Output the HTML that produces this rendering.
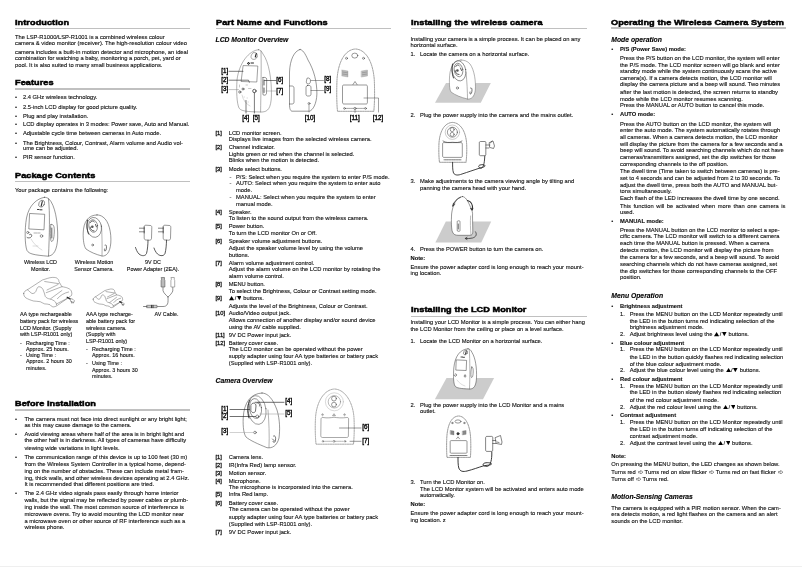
<!DOCTYPE html>
<html><head><meta charset="utf-8"><style>
*{margin:0;padding:0}
html,body{width:802px;height:567px;overflow:hidden;background:#fff}
body{position:relative;will-change:transform;font-family:"Liberation Sans",sans-serif;color:#111;-webkit-text-stroke:0.12px #111}
.l{position:absolute;white-space:pre;font-size:5.77px;line-height:5.77px}
.p{font-size:5.42px;line-height:5.42px}
.b{font-weight:bold}
.k{-webkit-text-stroke:0.3px #111}
.dl{font-size:6.3px;line-height:6.3px;-webkit-text-stroke:0.4px #111}
.h{position:absolute;white-space:pre;font-size:8.0px;line-height:8.0px;font-weight:bold;color:#000;transform-origin:0 0;transform:scaleX(1.145);-webkit-text-stroke:0.5px #000;letter-spacing:0.05px}
.s{position:absolute;white-space:pre;font-size:6.8px;line-height:6.8px;font-weight:bold;font-style:italic;color:#000}
.u{position:absolute;height:1.3px;background:#c0c0c0}
.c{text-align:center;width:100px}
.j{text-align:justify;text-align-last:justify}
svg.img{position:absolute;left:0;top:0}
.tri{display:inline-block;vertical-align:baseline}
</style></head><body>
<div class="h" style="left:15.00px;top:18.85px">Introduction</div>
<div class="u" style="left:15.00px;top:27.70px;width:175.00px"></div>
<div class="l" style="left:15.00px;top:34.82px">The LSP-R1000/LSP-R1001 is a combined wireless colour</div>
<div class="l" style="left:15.00px;top:41.42px">camera &amp; video monitor (receiver). The high-resolution colour video</div>
<div class="l" style="left:15.00px;top:49.62px">camera includes a built-in motion detector and microphone, an ideal</div>
<div class="l" style="left:15.00px;top:56.42px">combination for watching a baby, monitoring a porch, pet, yard or</div>
<div class="l" style="left:15.00px;top:62.82px">pool. It is also suited to many small business applications.</div>
<div class="h" style="left:15.00px;top:78.85px">Features</div>
<div class="u" style="left:15.00px;top:88.25px;width:175.00px"></div>
<div class="l" style="left:15.00px;top:95.32px">•</div>
<div class="l" style="left:23.00px;top:95.32px">2.4 GHz wireless technology.</div>
<div class="l" style="left:15.00px;top:104.52px">•</div>
<div class="l" style="left:23.00px;top:104.52px">2.5-inch LCD display for good picture quality.</div>
<div class="l" style="left:15.00px;top:113.52px">•</div>
<div class="l" style="left:23.00px;top:113.52px">Plug and play installation.</div>
<div class="l" style="left:15.00px;top:122.22px">•</div>
<div class="l" style="left:23.00px;top:122.22px">LCD display operates in 3 modes: Power save, Auto and Manual.</div>
<div class="l" style="left:15.00px;top:131.42px">•</div>
<div class="l" style="left:23.00px;top:131.42px">Adjustable cycle time between cameras in Auto mode.</div>
<div class="l" style="left:15.00px;top:140.52px">•</div>
<div class="l" style="left:23.00px;top:140.52px">The Brightness, Colour, Contrast, Alarm volume and Audio vol-</div>
<div class="l" style="left:23.00px;top:146.32px">ume can be adjusted.</div>
<div class="l" style="left:15.00px;top:155.02px">•</div>
<div class="l" style="left:23.00px;top:155.02px">PIR sensor function.</div>
<div class="h" style="left:15.00px;top:171.85px">Package Contents</div>
<div class="u" style="left:15.00px;top:181.20px;width:175.00px"></div>
<div class="l" style="left:15.00px;top:188.32px">Your package contains the following:</div>
<div class="l p c" style="left:-9.50px;top:259.81px">Wireless LCD</div>
<div class="l p c" style="left:-9.50px;top:266.61px">Monitor.</div>
<div class="l p c" style="left:44.00px;top:259.81px">Wireless Motion</div>
<div class="l p c" style="left:44.00px;top:266.61px">Sensor Camera.</div>
<div class="l p c" style="left:103.00px;top:259.81px">9V DC</div>
<div class="l p c" style="left:103.00px;top:266.61px">Power Adapter (2EA).</div>
<div class="l p" style="left:20.00px;top:312.11px">AA type rechargeable</div>
<div class="l p" style="left:20.00px;top:319.11px">battery pack for wireless</div>
<div class="l p" style="left:20.00px;top:326.11px">LCD Monitor. (Supply</div>
<div class="l p" style="left:20.00px;top:332.11px">with LSP-R1001 only)</div>
<div class="l p" style="left:20.00px;top:341.11px">-</div>
<div class="l p" style="left:26.00px;top:341.11px">Recharging Time :</div>
<div class="l p" style="left:26.00px;top:347.11px">Approx. 25 hours.</div>
<div class="l p" style="left:20.00px;top:353.31px">-</div>
<div class="l p" style="left:26.00px;top:353.31px">Using Time :</div>
<div class="l p" style="left:26.00px;top:358.61px">Approx. 2 hours 30</div>
<div class="l p" style="left:26.00px;top:365.61px">minutes.</div>
<div class="l p" style="left:86.00px;top:312.11px">AAA type recharge-</div>
<div class="l p" style="left:86.00px;top:319.11px">able battery pack for</div>
<div class="l p" style="left:86.00px;top:326.11px">wireless camera.</div>
<div class="l p" style="left:86.00px;top:332.11px">(Supply with</div>
<div class="l p" style="left:86.00px;top:338.61px">LSP-R1001 only)</div>
<div class="l p" style="left:86.00px;top:347.11px">-</div>
<div class="l p" style="left:92.00px;top:347.11px">Recharging Time :</div>
<div class="l p" style="left:92.00px;top:353.31px">Approx. 16 hours.</div>
<div class="l p" style="left:86.00px;top:361.11px">-</div>
<div class="l p" style="left:92.00px;top:361.11px">Using Time :</div>
<div class="l p" style="left:92.00px;top:367.61px">Approx. 3 hours 30</div>
<div class="l p" style="left:92.00px;top:374.11px">minutes.</div>
<div class="l p" style="left:154.50px;top:312.11px">AV Cable.</div>
<div class="h" style="left:15.00px;top:399.85px">Before Installation</div>
<div class="u" style="left:15.00px;top:409.25px;width:175.00px"></div>
<div class="l" style="left:15.00px;top:416.52px">•</div>
<div class="l" style="left:24.40px;top:416.52px">The camera must not face into direct sunlight or any bright light;</div>
<div class="l" style="left:24.40px;top:423.32px">as this may cause damage to the camera.</div>
<div class="l" style="left:15.00px;top:432.12px">•</div>
<div class="l" style="left:24.40px;top:432.12px">Avoid viewing areas where half of the area is in bright light and</div>
<div class="l" style="left:24.40px;top:438.32px">the other half is in darkness. All types of cameras have difficulty</div>
<div class="l" style="left:24.40px;top:446.22px">viewing wide variations in light levels.</div>
<div class="l" style="left:15.00px;top:454.62px">•</div>
<div class="l" style="left:24.40px;top:454.62px">The communication range of this device is up to 100 feet (30 m)</div>
<div class="l" style="left:24.40px;top:461.82px">from the Wireless System Controller in a typical home, depend-</div>
<div class="l" style="left:24.40px;top:468.72px">ing on the number of obstacles. These can include metal fram-</div>
<div class="l" style="left:24.40px;top:475.82px">ing, thick walls, and other wireless devices operating at 2.4 GHz.</div>
<div class="l" style="left:24.40px;top:481.52px">It is recommended that different positions are tried.</div>
<div class="l" style="left:15.00px;top:490.57px">•</div>
<div class="l" style="left:24.40px;top:490.57px">The 2.4 GHz video signals pass easily through home interior</div>
<div class="l" style="left:24.40px;top:497.82px">walls, but the signal may be reflected by power cables or plumb-</div>
<div class="l" style="left:24.40px;top:504.62px">ing inside the wall. The most common source of interference is</div>
<div class="l" style="left:24.40px;top:511.82px">microwave ovens. Try to avoid mounting the LCD monitor near</div>
<div class="l" style="left:24.40px;top:518.72px">a microwave oven or other source of RF interference such as a</div>
<div class="l" style="left:24.40px;top:524.82px">wireless phone.</div>
<div class="h" style="left:215.50px;top:18.85px">Part Name and Functions</div>
<div class="u" style="left:215.50px;top:27.70px;width:175.50px"></div>
<div class="s" style="left:215.50px;top:36.94px">LCD Monitor Overview</div>
<div class="l dl" style="left:221.30px;top:68.47px">[1]</div>
<div class="l dl" style="left:221.30px;top:77.47px">[2]</div>
<div class="l dl" style="left:221.30px;top:85.97px">[3]</div>
<div class="l dl" style="left:276.30px;top:77.47px">[6]</div>
<div class="l dl" style="left:276.30px;top:88.47px">[7]</div>
<div class="l dl" style="left:324.30px;top:75.97px">[8]</div>
<div class="l dl" style="left:324.30px;top:85.97px">[9]</div>
<div class="l dl" style="left:242.30px;top:115.37px">[4]</div>
<div class="l dl" style="left:252.80px;top:115.37px">[5]</div>
<div class="l dl" style="left:304.80px;top:115.37px">[10]</div>
<div class="l dl" style="left:349.80px;top:115.37px">[11]</div>
<div class="l dl" style="left:372.80px;top:115.37px">[12]</div>
<div class="l k" style="left:215.50px;top:130.52px">[1]</div>
<div class="l" style="left:228.75px;top:130.52px">LCD monitor screen.</div>
<div class="l" style="left:228.75px;top:137.32px">Displays live images from the selected wireless camera.</div>
<div class="l k" style="left:215.50px;top:145.02px">[2]</div>
<div class="l" style="left:228.75px;top:145.02px">Channel indicator.</div>
<div class="l" style="left:228.75px;top:152.22px">Lights green or red when the channel is selected.</div>
<div class="l" style="left:228.75px;top:158.02px">Blinks when the motion is detected.</div>
<div class="l k" style="left:215.50px;top:166.82px">[3]</div>
<div class="l" style="left:228.75px;top:166.82px">Mode select buttons.</div>
<div class="l" style="left:229.50px;top:174.82px">-</div>
<div class="l" style="left:236.00px;top:174.82px">P/S: Select when you require the system to enter P/S mode.</div>
<div class="l" style="left:229.50px;top:181.32px">-</div>
<div class="l" style="left:236.00px;top:181.32px">AUTO: Select when you require the system to enter auto</div>
<div class="l" style="left:236.00px;top:188.02px">mode.</div>
<div class="l" style="left:229.50px;top:194.82px">-</div>
<div class="l" style="left:236.00px;top:194.82px">MANUAL: Select when you require the system to enter</div>
<div class="l" style="left:236.00px;top:201.82px">manual mode.</div>
<div class="l k" style="left:215.50px;top:210.02px">[4]</div>
<div class="l" style="left:228.75px;top:210.02px">Speaker.</div>
<div class="l" style="left:228.75px;top:216.32px">To listen to the sound output from the wireless camera.</div>
<div class="l k" style="left:215.50px;top:224.32px">[5]</div>
<div class="l" style="left:228.75px;top:224.32px">Power button.</div>
<div class="l" style="left:228.75px;top:231.32px">To turn the LCD monitor On or Off.</div>
<div class="l k" style="left:215.50px;top:239.32px">[6]</div>
<div class="l" style="left:228.75px;top:239.32px">Speaker volume adjustment buttons.</div>
<div class="l" style="left:228.75px;top:246.32px">Adjust the speaker volume level by using the volume</div>
<div class="l" style="left:228.75px;top:252.82px">buttons.</div>
<div class="l k" style="left:215.50px;top:261.32px">[7]</div>
<div class="l" style="left:228.75px;top:261.32px">Alarm volume adjustment control.</div>
<div class="l" style="left:228.75px;top:267.32px">Adjust the alarm volume on the LCD monitor by rotating the</div>
<div class="l" style="left:228.75px;top:274.32px">alarm volume control.</div>
<div class="l k" style="left:215.50px;top:282.32px">[8]</div>
<div class="l" style="left:228.75px;top:282.32px">MENU button.</div>
<div class="l" style="left:228.75px;top:289.22px">To select the Brightness, Colour or Contrast setting mode.</div>
<div class="l k" style="left:215.50px;top:296.32px">[9]</div>
<div class="l" style="left:228.75px;top:296.32px"><svg class="tri" width="5.2" height="4.2" viewBox="0 0 5.2 4.2" style="margin:0 0.4px 0 0.3px"><path d="M2.6,0 L5.2,4.2 L0,4.2 Z" fill="#000"/></svg>/<svg class="tri" width="4.6" height="4.2" viewBox="0 0 4.6 4.2" style="margin:0 0.3px 0 0.5px"><path d="M0,0 L4.6,0 L2.3,4.2 Z" fill="#000"/></svg> buttons.</div>
<div class="l" style="left:228.75px;top:304.22px">Adjusts the level of the Brightness, Colour or Contrast.</div>
<div class="l k" style="left:215.50px;top:311.22px">[10]</div>
<div class="l" style="left:228.75px;top:311.22px">Audio/Video output jack.</div>
<div class="l" style="left:228.75px;top:318.12px">Allows connection of another display and/or sound device</div>
<div class="l" style="left:228.75px;top:324.62px">using the AV cable supplied.</div>
<div class="l k" style="left:215.50px;top:332.82px">[11]</div>
<div class="l" style="left:228.75px;top:332.82px">9V DC Power input jack.</div>
<div class="l k" style="left:215.50px;top:340.82px">[12]</div>
<div class="l" style="left:228.75px;top:340.82px">Battery cover case.</div>
<div class="l" style="left:228.75px;top:347.12px">The LCD monitor can be operated without the power</div>
<div class="l" style="left:228.75px;top:354.12px">supply adapter using four AA type batteries or battery pack</div>
<div class="l" style="left:228.75px;top:361.12px">(Supplied with LSP-R1001 only).</div>
<div class="s" style="left:215.50px;top:378.44px">Camera Overview</div>
<div class="l dl" style="left:221.30px;top:406.07px">[1]</div>
<div class="l dl" style="left:221.30px;top:413.47px">[2]</div>
<div class="l dl" style="left:221.30px;top:428.27px">[3]</div>
<div class="l dl" style="left:285.30px;top:398.47px">[4]</div>
<div class="l dl" style="left:285.30px;top:410.47px">[5]</div>
<div class="l dl" style="left:362.30px;top:424.47px">[6]</div>
<div class="l dl" style="left:362.30px;top:437.97px">[7]</div>
<div class="l k" style="left:215.50px;top:454.87px">[1]</div>
<div class="l" style="left:228.75px;top:454.87px">Camera lens.</div>
<div class="l k" style="left:215.50px;top:462.72px">[2]</div>
<div class="l" style="left:228.75px;top:462.72px">IR(Infra Red) lamp sensor.</div>
<div class="l k" style="left:215.50px;top:470.52px">[3]</div>
<div class="l" style="left:228.75px;top:470.52px">Motion sensor.</div>
<div class="l k" style="left:215.50px;top:478.62px">[4]</div>
<div class="l" style="left:228.75px;top:478.62px">Microphone.</div>
<div class="l" style="left:228.75px;top:484.87px">The microphone is incorporated into the camera.</div>
<div class="l k" style="left:215.50px;top:492.37px">[5]</div>
<div class="l" style="left:228.75px;top:492.37px">Infra Red lamp.</div>
<div class="l k" style="left:215.50px;top:500.52px">[6]</div>
<div class="l" style="left:228.75px;top:500.52px">Battery cover case.</div>
<div class="l" style="left:228.75px;top:507.37px">The camera can be operated without the power</div>
<div class="l" style="left:228.75px;top:514.87px">supply adapter using four AA type batteries or battery pack</div>
<div class="l" style="left:228.75px;top:522.12px">(Supplied with LSP-R1001 only).</div>
<div class="l k" style="left:215.50px;top:529.87px">[7]</div>
<div class="l" style="left:228.75px;top:529.87px">9V DC Power input jack.</div>
<div class="h" style="left:410.50px;top:18.85px">Installing the wireless camera</div>
<div class="u" style="left:410.50px;top:27.70px;width:176.50px"></div>
<div class="l" style="left:410.50px;top:37.42px">Installing your camera is a simple process. It can be placed on any</div>
<div class="l" style="left:410.50px;top:43.42px">horizontal surface.</div>
<div class="l" style="left:410.50px;top:52.22px">1.</div>
<div class="l" style="left:420.00px;top:52.22px">Locate the camera on a horizontal surface.</div>
<div class="l" style="left:410.50px;top:113.02px">2.</div>
<div class="l" style="left:420.00px;top:113.02px">Plug the power supply into the camera and the mains outlet.</div>
<div class="l" style="left:410.50px;top:179.32px">3.</div>
<div class="l" style="left:420.00px;top:179.32px">Make adjustments to the camera viewing angle by tilting and</div>
<div class="l" style="left:420.00px;top:185.57px">panning the camera head with your hand.</div>
<div class="l" style="left:410.50px;top:247.32px">4.</div>
<div class="l" style="left:420.00px;top:247.32px">Press the POWER button to turn the camera on.</div>
<div class="l b" style="left:410.50px;top:256.32px">Note:</div>
<div class="l" style="left:410.50px;top:265.07px">Ensure the power adapter cord is long enough to reach your mount-</div>
<div class="l" style="left:410.50px;top:271.07px">ing location.</div>
<div class="h" style="left:410.50px;top:305.85px">Installing the LCD Monitor</div>
<div class="u" style="left:410.50px;top:315.80px;width:176.50px"></div>
<div class="l" style="left:410.50px;top:320.07px">Installing your LCD Monitor is a simple process. You can either hang</div>
<div class="l" style="left:410.50px;top:327.32px">the LCD Monitor from the ceiling or place on a level surface.</div>
<div class="l" style="left:410.50px;top:339.32px">1.</div>
<div class="l" style="left:420.00px;top:339.32px">Locate the LCD Monitor on a horizontal surface.</div>
<div class="l" style="left:410.50px;top:403.07px">2.</div>
<div class="l" style="left:420.00px;top:403.07px">Plug the power supply into the LCD Monitor and a mains</div>
<div class="l" style="left:420.00px;top:409.32px">outlet.</div>
<div class="l" style="left:410.50px;top:479.82px">3.</div>
<div class="l" style="left:420.00px;top:479.82px">Turn the LCD Monitor on.</div>
<div class="l" style="left:420.00px;top:486.82px">The LCD Monitor system will be activated and enters auto mode</div>
<div class="l" style="left:420.00px;top:493.07px">automatically.</div>
<div class="l b" style="left:410.50px;top:502.42px">Note:</div>
<div class="l" style="left:410.50px;top:511.22px">Ensure the power adapter cord is long enough to reach your mount-</div>
<div class="l" style="left:410.50px;top:518.07px">ing location. z</div>
<div class="h" style="left:611.30px;top:18.85px">Operating the Wireless Camera System</div>
<div class="u" style="left:611.30px;top:27.25px;width:174.70px"></div>
<div class="s" style="left:611.30px;top:37.24px">Mode operation</div>
<div class="l" style="left:611.30px;top:47.22px">•</div>
<div class="l b" style="left:620.00px;top:47.22px">P/S (Power Save) mode:</div>
<div class="l" style="left:620.00px;top:56.02px">Press the P/S button on the LCD monitor, the system will enter</div>
<div class="l" style="left:620.00px;top:62.82px">the P/S mode. The LCD monitor screen will go blank and enter</div>
<div class="l" style="left:620.00px;top:69.32px">standby mode while the system continuously scans the active</div>
<div class="l" style="left:620.00px;top:75.62px">camera(s). If a camera detects motion, the LCD monitor will</div>
<div class="l" style="left:620.00px;top:81.92px">display the camera picture and a beep will sound. Two minutes</div>
<div class="l" style="left:620.00px;top:90.02px">after the last motion is detected, the screen returns to standby</div>
<div class="l" style="left:620.00px;top:96.82px">mode while the LCD monitor resumes scanning.</div>
<div class="l" style="left:620.00px;top:102.62px">Press the MANUAL or AUTO button to cancel this mode.</div>
<div class="l" style="left:611.30px;top:112.22px">•</div>
<div class="l b" style="left:620.00px;top:112.22px">AUTO mode:</div>
<div class="l" style="left:620.00px;top:121.52px">Press the AUTO button on the LCD monitor, the system will</div>
<div class="l" style="left:620.00px;top:128.32px">enter the auto mode. The system automatically rotates through</div>
<div class="l" style="left:620.00px;top:134.82px">all cameras. When a camera detects motion, the LCD monitor</div>
<div class="l" style="left:620.00px;top:141.92px">will display the picture from the camera for a few seconds and a</div>
<div class="l" style="left:620.00px;top:148.22px">beep will sound. To avoid searching channels which do not have</div>
<div class="l" style="left:620.00px;top:155.02px">cameras/transmitters assigned, set the dip switches for those</div>
<div class="l" style="left:620.00px;top:162.12px">corresponding channels to the off position.</div>
<div class="l" style="left:620.00px;top:168.82px">The dwell time (Time taken to switch between cameras) is pre-</div>
<div class="l" style="left:620.00px;top:175.92px">set to 4 seconds and can be adjusted from 2 to 30 seconds. To</div>
<div class="l" style="left:620.00px;top:182.72px">adjust the dwell time, press both the AUTO and MANUAL but-</div>
<div class="l" style="left:620.00px;top:188.82px">tons simultaneously.</div>
<div class="l" style="left:620.00px;top:196.12px">Each flash of the LED increases the dwell time by one second.</div>
<div class="l j" style="left:620.00px;top:203.62px;width:165.50px">This function will be activated when more than one camera is</div>
<div class="l" style="left:620.00px;top:209.92px">used.</div>
<div class="l" style="left:611.30px;top:218.82px">•</div>
<div class="l b" style="left:620.00px;top:218.82px">MANUAL mode:</div>
<div class="l" style="left:620.00px;top:228.32px">Press the MANUAL button on the LCD monitor to select a spe-</div>
<div class="l" style="left:620.00px;top:233.82px">cific camera. The LCD monitor will switch to a different camera</div>
<div class="l" style="left:620.00px;top:240.92px">each time the MANUAL button is pressed. When a camera</div>
<div class="l" style="left:620.00px;top:247.72px">detects motion, the LCD monitor will display the picture from</div>
<div class="l" style="left:620.00px;top:254.82px">the camera for a few seconds, and a beep will sound. To avoid</div>
<div class="l" style="left:620.00px;top:261.82px">searching channels which do not have cameras assigned, set</div>
<div class="l" style="left:620.00px;top:268.92px">the dip switches for those corresponding channels to the OFF</div>
<div class="l" style="left:620.00px;top:274.92px">position.</div>
<div class="s" style="left:611.30px;top:293.04px">Menu Operation</div>
<div class="l" style="left:611.30px;top:304.22px">•</div>
<div class="l b" style="left:620.00px;top:304.22px">Brightness adjustment</div>
<div class="l" style="left:620.00px;top:312.22px">1.</div>
<div class="l" style="left:629.70px;top:312.22px">Press the MENU button on the LCD Monitor repeatedly until</div>
<div class="l" style="left:629.70px;top:319.02px">the LED in the button turns red indicating selection of the</div>
<div class="l" style="left:629.70px;top:325.32px">brightness adjustment mode.</div>
<div class="l" style="left:620.00px;top:332.42px">2.</div>
<div class="l" style="left:629.70px;top:332.42px">Adjust brightness level using the <svg class="tri" width="5.2" height="4.2" viewBox="0 0 5.2 4.2" style="margin:0 0.4px 0 0.3px"><path d="M2.6,0 L5.2,4.2 L0,4.2 Z" fill="#000"/></svg>/<svg class="tri" width="4.6" height="4.2" viewBox="0 0 4.6 4.2" style="margin:0 0.3px 0 0.5px"><path d="M0,0 L4.6,0 L2.3,4.2 Z" fill="#000"/></svg> buttons.</div>
<div class="l" style="left:611.30px;top:341.22px">•</div>
<div class="l b" style="left:620.00px;top:341.22px">Blue colour adjustment</div>
<div class="l" style="left:620.00px;top:347.02px">1.</div>
<div class="l" style="left:629.70px;top:347.02px">Press the MENU button on the LCD Monitor repeatedly until</div>
<div class="l" style="left:629.70px;top:355.02px">the LED in the button quickly flashes red indicating selection</div>
<div class="l" style="left:629.70px;top:362.12px">of the blue colour adjustment mode.</div>
<div class="l" style="left:620.00px;top:368.12px">2.</div>
<div class="l" style="left:629.70px;top:368.12px">Adjust the blue colour level using the <svg class="tri" width="5.2" height="4.2" viewBox="0 0 5.2 4.2" style="margin:0 0.4px 0 0.3px"><path d="M2.6,0 L5.2,4.2 L0,4.2 Z" fill="#000"/></svg>/<svg class="tri" width="4.6" height="4.2" viewBox="0 0 4.6 4.2" style="margin:0 0.3px 0 0.5px"><path d="M0,0 L4.6,0 L2.3,4.2 Z" fill="#000"/></svg> buttons.</div>
<div class="l" style="left:611.30px;top:376.92px">•</div>
<div class="l b" style="left:620.00px;top:376.92px">Red colour adjustment</div>
<div class="l" style="left:620.00px;top:384.02px">1.</div>
<div class="l" style="left:629.70px;top:384.02px">Press the MENU button on the LCD Monitor repeatedly until</div>
<div class="l" style="left:629.70px;top:390.42px">the LED in the button slowly flashes red indicating selection</div>
<div class="l" style="left:629.70px;top:397.82px">of the red colour adjustment mode.</div>
<div class="l" style="left:620.00px;top:404.82px">2.</div>
<div class="l" style="left:629.70px;top:404.82px">Adjust the red colour level using the <svg class="tri" width="5.2" height="4.2" viewBox="0 0 5.2 4.2" style="margin:0 0.4px 0 0.3px"><path d="M2.6,0 L5.2,4.2 L0,4.2 Z" fill="#000"/></svg>/<svg class="tri" width="4.6" height="4.2" viewBox="0 0 4.6 4.2" style="margin:0 0.3px 0 0.5px"><path d="M0,0 L4.6,0 L2.3,4.2 Z" fill="#000"/></svg> buttons.</div>
<div class="l" style="left:611.30px;top:412.82px">•</div>
<div class="l b" style="left:620.00px;top:412.82px">Contrast adjustment</div>
<div class="l" style="left:620.00px;top:420.22px">1.</div>
<div class="l" style="left:629.70px;top:420.22px">Press the MENU button on the LCD Monitor repeatedly until</div>
<div class="l" style="left:629.70px;top:427.42px">the LED in the button turns off indicating selection of the</div>
<div class="l" style="left:629.70px;top:433.72px">contrast adjustment mode.</div>
<div class="l" style="left:620.00px;top:440.82px">2.</div>
<div class="l" style="left:629.70px;top:440.82px">Adjust the contrast level using the <svg class="tri" width="5.2" height="4.2" viewBox="0 0 5.2 4.2" style="margin:0 0.4px 0 0.3px"><path d="M2.6,0 L5.2,4.2 L0,4.2 Z" fill="#000"/></svg>/<svg class="tri" width="4.6" height="4.2" viewBox="0 0 4.6 4.2" style="margin:0 0.3px 0 0.5px"><path d="M0,0 L4.6,0 L2.3,4.2 Z" fill="#000"/></svg> buttons.</div>
<div class="l b" style="left:611.30px;top:454.02px">Note:</div>
<div class="l" style="left:611.30px;top:462.12px">On pressing the MENU button, the LED changes as shown below.</div>
<div class="l" style="left:611.30px;top:469.92px">Turns red <svg class="tri" width="5.4" height="4.4" viewBox="0 0 5.4 4.4" style="margin:0 0.2px"><path d="M0.4,1.5 H2.6 V0.4 L5,2.2 L2.6,4 V2.9 H0.4 Z" fill="#fff" stroke="#555" stroke-width="0.6"/></svg> Turns red on slow flicker <svg class="tri" width="5.4" height="4.4" viewBox="0 0 5.4 4.4" style="margin:0 0.2px"><path d="M0.4,1.5 H2.6 V0.4 L5,2.2 L2.6,4 V2.9 H0.4 Z" fill="#fff" stroke="#555" stroke-width="0.6"/></svg> Turns red on fast flicker <svg class="tri" width="5.4" height="4.4" viewBox="0 0 5.4 4.4" style="margin:0 0.2px"><path d="M0.4,1.5 H2.6 V0.4 L5,2.2 L2.6,4 V2.9 H0.4 Z" fill="#fff" stroke="#555" stroke-width="0.6"/></svg></div>
<div class="l" style="left:611.30px;top:476.82px">Turns off <svg class="tri" width="5.4" height="4.4" viewBox="0 0 5.4 4.4" style="margin:0 0.2px"><path d="M0.4,1.5 H2.6 V0.4 L5,2.2 L2.6,4 V2.9 H0.4 Z" fill="#fff" stroke="#555" stroke-width="0.6"/></svg> Turns red.</div>
<div class="s" style="left:611.30px;top:494.14px">Motion-Sensing Cameras</div>
<div class="l" style="left:611.30px;top:506.22px">The camera is equipped with a PIR motion sensor. When the cam-</div>
<div class="l" style="left:611.30px;top:511.82px">era detects motion, a red light flashes on the camera and an alert</div>
<div class="l" style="left:611.30px;top:518.72px">sounds on the LCD monitor.</div>
<svg class="img" width="802" height="567" viewBox="0 0 802 567" fill="none" stroke="#333" stroke-width="0.5" stroke-linejoin="round" stroke-linecap="round">
<!-- ===== COL1 package ===== -->
<!-- LCD monitor 3/4 -->
<g>
<path d="M44.5,197.3 C37,198.5 29,205 26.5,218 C24.5,230 24.8,245 27,250.5 C29,254 34,255 48,256.2 C54,255.5 57,250 57.7,238 C58,222 55,205 49,199 C47.5,197.8 46,197.3 44.5,197.3 Z"/>
<path d="M48.5,199 C50,212 49.5,235 48.5,256"/>
<ellipse cx="41.6" cy="203.7" rx="2.7" ry="3.6" transform="rotate(25 41.6 203.7)"/>
<path d="M42.3,201.5 L41.2,206" stroke-width="1.1"/>
<path d="M37.5,209.5 h1.5 M40,209.8 h2" stroke-width="1"/>
<path d="M30,213.5 L44.7,214.3 L44,229.8 L29.2,229 Z"/>
<path d="M51,224.5 C53.5,224 54.5,226 54.3,232 C54,239 53,241.5 51.5,241.5 C50,241 50,227 51,224.5 Z"/>
<path d="M51.8,228 v10" stroke-width="0.8"/>
<circle cx="27.8" cy="232.5" r="1.1"/>
<path d="M29.5,234.5 C30.5,233.5 32.5,234.5 31.5,236.5 C30.5,238 28,238.5 27,237.5" stroke-width="0.7"/>
<circle cx="41.5" cy="236" r="1.3"/>
<path d="M34,233 h3 M38,233 h2" stroke-width="0.4"/>
<path d="M31,239 C33,243 38,248 42,250 M33,246 h5" stroke="#aaa" stroke-width="0.4"/>
</g>
<!-- camera -->
<g>
<path d="M97,214.9 C88,215 83.5,222 83.2,233 C83,240 84,246.5 86,249 C90,252 96,254.5 102,256 C106,256.5 110,253 110.8,243 C111.5,233 109,221 103,217 C101,215.5 99,214.9 97,214.9 Z"/>
<ellipse cx="94.2" cy="227.4" rx="7.3" ry="10" transform="rotate(-8 94.2 227.4)"/>
<ellipse cx="93.2" cy="226" rx="4.4" ry="6.3" transform="rotate(-8 93.2 226)"/>
<path d="M90.5,222.5 C91.5,220.5 93.5,220.5 94.5,222 M90,227 C90.5,229.5 92,231 94,231 M95.5,224.5 l1,2.5" stroke="#444" stroke-width="0.9"/>
<circle cx="92.3" cy="226.8" r="1.3" fill="#555" stroke="none"/>
<path d="M87.5,220 C86.5,224 86.8,230 88.5,234" stroke="#333" stroke-width="0.9"/>
<path d="M101.5,225 C102,235 102.3,245 102,256" stroke="#666"/>
<circle cx="92.6" cy="245" r="0.9"/>
<path d="M105,245 C106.5,244 107,247 106,250 C105,252 104,251 104.5,249" stroke-width="0.7"/>
</g>
<!-- adapters -->
<g>
<path d="M144.2,226.5 C144.2,225.5 145,225.2 146,225.2 L150.5,225.5 C151.5,225.6 151.8,226.5 151.8,227.5 L151.5,238.5 C151.5,239.6 150.5,240.2 149.5,240.2 L146,240 C145,240 144.2,239.3 144.2,238.3 Z"/>
<path d="M144.2,228.2 h-4.8 M144.2,231.8 h-4.8 M144.2,227 v6" stroke-width="0.6"/>
<path d="M148,240.2 C148,244 147.5,250 146.5,253.5 C145.5,256 142,256.5 139,254 C137,252 136,249 135.5,247.5" stroke="#222" stroke-width="0.75"/>
<path d="M163.2,226.5 C163.2,225.5 164,225.2 165,225.2 L169.5,225.5 C170.5,225.6 170.8,226.5 170.8,227.5 L170.5,238.5 C170.5,239.6 169.5,240.2 168.5,240.2 L165,240 C164,240 163.2,239.3 163.2,238.3 Z"/>
<path d="M163.2,228.2 h-4.8 M163.2,231.8 h-4.8 M163.2,227 v6" stroke-width="0.6"/>
<path d="M166.5,240.2 C166.5,244 166,250 165,253.5 C164,256 160.5,256.5 157.5,254 C155.5,252 154.5,249.5 154,248" stroke="#222" stroke-width="0.75"/>
</g>
<!-- AA battery pack -->
<g stroke="#555" stroke-width="0.45">
<path d="M23.7,293.4 C24,291.5 25.5,290.5 27.5,289.7 L42.4,280 C46,279 49,277.6 52.2,277.4 C55,277.3 57,277.8 57.4,278.5 C58.5,279.5 59,280.5 58.9,281.5 L61.9,286.7 C64,287 66.5,287.5 67.9,288.2 C70,289 71.5,290.5 71.6,292 C72,293 72,294.5 71.5,295.5 L57.4,305.4 C56,306.5 54,307 52.9,306.9 C51.5,306.5 50.5,305.5 50,304.7 C48,304 46,304 44.7,303.9 C43,303.3 41.5,302.3 40.2,301.7 C38,301.3 35.5,301.3 33.5,301 C30,300 28,299 26,298 C24.5,297 23.5,295 23.7,293.4 Z"/>
<path d="M27.5,289.7 C29,291 31,293 32,293.5 C33.5,293.7 35,293 35.8,291.5 C36.8,289 37.5,287 38.5,286.8 C40.5,286.5 42,287.5 43,289.5 C44,291.5 44.5,294 45.3,296.5 C46.5,298 48,298.7 50,299 C52,299.5 54,300.5 55.5,302 C56.2,303 56.5,304 56.6,305"/>
<path d="M44.7,281.5 L58.9,283.7 M46.2,292.7 L61.9,286.7 M47,290 C50,288.5 55,286 58,284.5 M50.7,298.7 L61.9,290.5 M57.4,298.7 C60,295.5 64,293 68.6,292 M56.6,303.9 L69.4,297.2"/>
<path d="M67.1,297.2 L70,299" stroke="#222" stroke-width="1.1"/>
<path d="M70.5,298.5 l2.5,0.8 l1.5,1.5 l-0.8,1.8 l-2.5,-0.8 Z M71.5,301.5 v1.5 M73,302 v1.2" stroke-width="0.5"/>
</g>
<!-- AAA battery pack -->
<g stroke="#555" stroke-width="0.45" transform="translate(93.2,289) scale(0.611,0.634) translate(-23.7,-277.4)">
<path d="M23.7,293.4 C24,291.5 25.5,290.5 27.5,289.7 L42.4,280 C46,279 49,277.6 52.2,277.4 C55,277.3 57,277.8 57.4,278.5 C58.5,279.5 59,280.5 58.9,281.5 L61.9,286.7 C64,287 66.5,287.5 67.9,288.2 C70,289 71.5,290.5 71.6,292 C72,293 72,294.5 71.5,295.5 L57.4,305.4 C56,306.5 54,307 52.9,306.9 C51.5,306.5 50.5,305.5 50,304.7 C48,304 46,304 44.7,303.9 C43,303.3 41.5,302.3 40.2,301.7 C38,301.3 35.5,301.3 33.5,301 C30,300 28,299 26,298 C24.5,297 23.5,295 23.7,293.4 Z" vector-effect="non-scaling-stroke"/>
<path d="M27.5,289.7 C29,291 31,293 32,293.5 C33.5,293.7 35,293 35.8,291.5 C36.8,289 37.5,287 38.5,286.8 C40.5,286.5 42,287.5 43,289.5 C44,291.5 44.5,294 45.3,296.5 C46.5,298 48,298.7 50,299 C52,299.5 54,300.5 55.5,302 C56.2,303 56.5,304 56.6,305" vector-effect="non-scaling-stroke"/>
<path d="M44.7,281.5 L58.9,283.7 M46.2,292.7 L61.9,286.7 M47,290 C50,288.5 55,286 58,284.5 M50.7,298.7 L61.9,290.5 M57.4,298.7 C60,295.5 64,293 68.6,292 M56.6,303.9 L69.4,297.2" vector-effect="non-scaling-stroke"/>
<path d="M67.1,297.2 L70,299" stroke="#222" stroke-width="1.1" vector-effect="non-scaling-stroke"/>
<path d="M70.5,298.5 l2.5,0.8 l1.5,1.5 l-0.8,1.8 l-2.5,-0.8 Z M71.5,301.5 v1.5 M73,302 v1.2" stroke-width="0.5" vector-effect="non-scaling-stroke"/>
</g>
<!-- AV cable -->
<g stroke-width="0.6">
<path d="M161.5,277.5 h3 v2 l0.4,1 v6.5 h-3.8 v-6.5 l0.4,-1 Z" fill="#bbb" stroke="#555"/>
<path d="M171.3,277.5 h3 v2 l0.4,1 v6.5 h-3.8 v-6.5 l0.4,-1 Z" fill="#fff" stroke="#777"/>
<path d="M163,287.5 v3 C163.5,293 166,295 168,297 M172.8,287.5 v3.5 C172,293 170,295.5 168,297 M168,297 C168,300 168.3,302 167.5,304 C166.5,306 165,306.5 163,306.5 L157,306.5" stroke="#444"/>
<path d="M147,305.3 h10 v2.4 h-10 Z" fill="#ccc" stroke="#555"/>
<path d="M151.5,305.3 v2.4 M153,305.3 v2.4" stroke="#333" stroke-width="0.9"/>
<path d="M147,306.5 h-3.5" stroke="#333"/>
</g>

<!-- ===== COL2 LCD monitor overview ===== -->
<g>
<!-- front -->
<path d="M258.5,49.7 C249,50.5 239,63 237,80 C236.3,92 236.8,103 239,108 C241,111 246,111.8 262,112 C268,111.8 271,108 271.4,96 C271.8,80 269,62 263,54 C261.5,51 260,49.7 258.5,49.7 Z" stroke="#555" stroke-width="0.45"/>
<path d="M261,51 C261.5,70 260.8,95 260.6,112" stroke="#555" stroke-width="0.45"/>
<ellipse cx="254.2" cy="56" rx="3" ry="3.6" transform="rotate(20 254.2 56)" stroke="#555" stroke-width="0.45"/>
<path d="M256.3,53.5 L255.3,57" stroke="#222" stroke-width="1.1"/>
<path d="M248.5,62.6 a0.9,0.9 0 1,0 0.1,0 M251,63 h2.5" stroke="#222" stroke-width="1"/>
<path d="M243.5,65.6 L257.8,66 L256.8,82 L241.5,81.5 Z" stroke="#444" stroke-width="0.5"/>
<path d="M263,77.5 C264.5,77 266.5,77.5 266.7,79 L266.5,93.5 C266.3,95 264.5,95.5 263.2,95 C262.5,94 262.5,80 263,77.5 Z" stroke="#444" stroke-width="0.55"/>
<path d="M264,80 v5 M264,88 v4.5" stroke="#333" stroke-width="0.8"/>
<circle cx="239.8" cy="92" r="1.1" stroke="#333" stroke-width="0.6"/>
<circle cx="243" cy="89" r="1" stroke="#333" stroke-width="0.6"/>
<path d="M239.5,85 v2 M246,85 h1.5 M248.5,88.5 h2.5" stroke="#777" stroke-width="0.4"/>
<circle cx="254.4" cy="91" r="1.7" stroke="#222" stroke-width="0.7"/>
<path d="M242,95 C243,100 246,104 250,106 M244,97 l0.5,0 M247,98 l0.5,0 M245,101 l0.5,0 M248,102 l0.5,0" stroke="#aaa" stroke-width="0.45"/>
<!-- leaders -->
<path d="M229,71.3 h14 M229,80.2 h19.5 l0.8,2 M246,100.5 v12.5 M254.4,92.7 v20.3 M264.5,80.5 h11.5" stroke="#222" stroke-width="0.6"/>
<path d="M229,89.6 h9.5 M266,91 h10" stroke="#888" stroke-width="0.5"/>
<!-- side -->
<path d="M300,49.5 C294,51 290,60 289.5,72 L289.5,104 C289.5,109 290.5,111 292,111.2 L309.5,111.2 C313,110 316.5,104 316.9,94 C317,82 314,70 308,60 C305,53 302.5,49.5 300,49.5 Z"/>
<path d="M289.5,86 h2.5 C293.5,86 294,87 294,88.5 L294,102 C294,103 293.5,104 292,104 L289.5,104"/>
<path d="M307.5,78 C309.5,77.5 310.5,79 310.5,81 C310.5,83 309.5,84 308,84 C306.5,84 306,82.5 306.5,80.5 Z"/>
<path d="M307.5,85.5 h2 C310.5,85.5 311,86.5 311,88 L311,94 C311,95.5 310,96 309,96 L307.5,96 C306.5,96 306,95 306,94 L306,87.5 C306,86.5 306.7,85.5 307.5,85.5 Z"/>
<circle cx="309" cy="103.5" r="1"/>
<path d="M311,80.5 h12.5 M311,90.5 h12.5 M309,105 v7" stroke-width="0.45"/>
<!-- back -->
<path d="M355.5,49 C345,49.5 338,62 337,80 C336.5,92 336.7,104 337.5,111.3 L373.8,111.3 C374.6,104 374.8,92 374.3,80 C373,62 366,49.5 355.5,49 Z" stroke="#666" stroke-width="0.5" stroke-dasharray="1.3,0.4"/>
<ellipse cx="354.8" cy="55.6" rx="3" ry="2.5"/>
<circle cx="346.5" cy="58.3" r="1"/>
<circle cx="363.5" cy="58.3" r="1"/>
<path d="M342,70 l6,1 v6 l-6,-1 Z M361.5,71 l6,-1 v6 l-6,1 Z" fill="#bbb" stroke="#888" stroke-width="0.3"/>
<path d="M342.5,72 l5,0.8 M342.5,74 l5,0.8 M362,72.8 l5,-0.8 M362,74.8 l5,-0.8" stroke="#666" stroke-width="0.35"/>
<path d="M353,84.5 l2,-3 l2,3" stroke-width="0.5"/>
<path d="M342.5,86 C342.5,85.3 343,85 344,85 L366,85 C367,85 367.4,85.5 367.4,86.5 L367.4,102.5 C367.4,103.5 367,104 366,104 L344,104 C343,104 342.5,103.5 342.5,102.5 Z"/>
<circle cx="344.5" cy="108.4" r="0.9"/>
<circle cx="355" cy="108.4" r="1.1"/>
<circle cx="365.5" cy="108.4" r="0.9"/>
<path d="M346,108.4 h7.5 M356.5,108.4 h7.5" stroke-dasharray="0.8,0.6" stroke-width="0.4"/>
<path d="M355,109.5 v3 M364,98 h14.5 v14" stroke-width="0.45"/>
</g>

<!-- ===== COL2 Camera overview ===== -->
<g>
<path d="M262,393 C251,393.5 244,402 243.2,418 C242.8,428 244,434 246,437 C250,440.5 258,444 267,447.7 C272,448.5 277,446 279,438 C280,430 280,420 277,410 C273,399 268,393 262,393 Z"/>
<ellipse cx="257" cy="410" rx="9" ry="14.5" transform="rotate(-8 257 410)" stroke="#444" stroke-width="0.5"/>
<path d="M250,400 C247.5,404 247,412 249,418" stroke="#333" stroke-width="1"/>
<ellipse cx="255.5" cy="408.5" rx="6" ry="10" transform="rotate(-8 255.5 408.5)"/>
<path d="M251,405 C252,402 256,402.5 256,406 L255.5,411 C255,413 252,413.5 251,411 Z" stroke-width="0.7"/>
<path d="M257,403 C258.5,402 260,404 259.5,406" stroke-width="0.7"/>
<circle cx="257.3" cy="416.4" r="1.4"/>
<circle cx="255" cy="432.5" r="1.3"/>
<path d="M268,410 C269,422 269.5,435 269,447.5" stroke="#666"/>
<path d="M273.5,436 C275,435 276,437 275.5,440 C275,443 273.5,443 273,441.5 M272.5,439 l2,2" stroke-width="0.7"/>
<path d="M230,409.5 h19.5 M230,416.5 h25.5 M255,402.3 h29" stroke="#222" stroke-width="0.65"/>
<path d="M260,414 h24" stroke="#888" stroke-width="0.45"/>
<path d="M230,432.5 h23.5" stroke="#999" stroke-width="0.45"/>
<!-- back -->
<path d="M334.5,389 C324,389.5 316.5,402 315.5,418 C315,428 315.3,437 316,444.2 L353.5,444.2 C354.2,437 354.5,428 354,418 C353,402 345,389.5 334.5,389 Z" stroke="#777" stroke-width="0.5" stroke-dasharray="1.3,0.4"/>
<circle cx="334.4" cy="401.8" r="9" stroke="#aaa" stroke-width="0.45"/>
<circle cx="334.4" cy="401.8" r="6.2" stroke="#666" stroke-width="0.45"/>
<circle cx="334" cy="398.6" r="2.4" stroke="#444" stroke-width="0.55"/>
<circle cx="334" cy="404.6" r="2.4" stroke="#444" stroke-width="0.55"/>
<path d="M322.5,414 a0.8,0.8 0 1,0 0.1,0 M344.5,414 a0.8,0.8 0 1,0 0.1,0 M332.8,415.3 l1.2,-1.6 l1.2,1.6 Z" stroke="#555" stroke-width="0.5"/>
<path d="M321,418.8 C321,417.8 322,417.4 323,417.5 C327,418.2 331,417.8 334,417.2 C337,417.8 342,418.2 346.8,417.5 C348,417.4 348.6,418 348.6,419 L348.4,436 C348.4,437 347.6,437.5 346.5,437.5 L322.5,437.5 C321.5,437.5 320.8,437 320.8,436 Z" stroke="#555" stroke-width="0.5"/>
<circle cx="323" cy="441.3" r="0.8" stroke="#555" stroke-width="0.5"/>
<circle cx="334" cy="441.3" r="1" stroke="#555" stroke-width="0.5"/>
<circle cx="345" cy="441.3" r="0.8" stroke="#555" stroke-width="0.5"/>
<path d="M325,441.3 h7.5 M336,441.3 h7.5" stroke="#666" stroke-dasharray="0.7,0.6" stroke-width="0.4"/>
<path d="M339.5,428 h21.5 M350,441.3 h11" stroke="#333" stroke-width="0.5"/>
</g>

<!-- ===== COL3 install camera ===== -->
<g>
<path d="M446,82.9 L490.8,82.9 L480.8,102.7 L435,102.7 Z" fill="#cccccc" stroke="none"/>
<path d="M461,60 C453,60.5 449.5,68 449.4,80 C449.3,86 449.8,90 451,92 C455,95 461,97.5 467.5,99 C471,99.5 474.5,97 475.3,90 C476,82 474.5,70 470,64 C467.5,61 464,60 461,60 Z" fill="#fff" stroke="#666"/>
<ellipse cx="459" cy="70.8" rx="6.8" ry="10.2" transform="rotate(-10 459 70.8)"/>
<ellipse cx="458.5" cy="70" rx="4.3" ry="6.8" transform="rotate(-10 458.5 70)"/>
<path d="M455.8,66.5 C456.5,64.5 458.5,64.5 459.5,66 M455,70.5 C455.5,73 457,74.5 459,74.5 M460.5,68 l1,2.5" stroke="#444" stroke-width="0.9"/>
<circle cx="457.4" cy="70.5" r="1.3" fill="#555" stroke="none"/>
<path d="M452.5,64 C451.5,68 451.8,74 453.5,78" stroke="#333" stroke-width="0.9"/>
<path d="M466,72 C467,82 467.5,92 467.5,99" stroke="#666"/>
<circle cx="457.4" cy="88" r="1.1"/>
<path d="M470.5,88 C472,87 472.5,90 471.5,93 C470.5,95 469.5,94 470,92" stroke-width="0.7"/>
</g>
<g>
<!-- camera back w/ adapter -->
<path d="M452.5,122.4 C443,123 439.2,134 438.9,145 C438.7,152 438.9,158 439.5,162.3 L466,162.3 C466.6,158 466.9,152 466.7,145 C466.3,134 462,123 452.5,122.4 Z" stroke="#555" stroke-dasharray="1.2,0.5"/>
<circle cx="452.4" cy="132.2" r="7.2" stroke="#999"/>
<circle cx="452.4" cy="132.2" r="5"/>
<circle cx="452.2" cy="129.6" r="2"/>
<circle cx="452.2" cy="134.4" r="2"/>
<path d="M443,141 C446,143 449,142.5 452.5,142.3 C456,142.5 459,143 462,141" stroke-width="0.6"/>
<path d="M442.6,143.5 C442.6,142.8 443.2,142.6 444,142.6 L461,142.6 C461.8,142.6 462.3,143 462.3,143.8 L462.3,156.5 C462.3,157.1 461.8,157.4 461,157.4 L444,157.4 C443.2,157.4 442.6,157 442.6,156.4 Z"/>
<path d="M444,159.8 h17" stroke-dasharray="0.8,0.6" stroke-width="0.6"/>
<path d="M452.6,162.3 C452.6,166 452.5,170 453.5,173 C455,175.5 458,175.5 462,174 C468,172 474,170 479,168.3 C482,167.5 485,167 485,165.8 C485,164.5 481.5,164.3 479.5,165.2 C478,166 478.5,168 481,168.2 C483,168 484,165 484.5,160 L484.8,156" stroke="#222" stroke-width="0.85"/>
<path d="M479.3,142.5 C479.3,141.9 479.8,141.5 480.5,141.5 L485,141.5 C485.6,141.5 485.9,142 485.9,142.6 L485.8,154.8 C485.8,155.4 485.3,155.7 484.7,155.7 L480.5,155.7 C479.8,155.7 479.3,155.3 479.3,154.7 Z" stroke-width="0.6"/>
<path d="M485.9,145 h4 M485.9,148 h3 M489.5,142.5 l3.5,-1.5 l1.5,5 l-1,2.5 l-3.5,-1 Z M490.5,143 l1.5,-2" stroke-width="0.6"/>
</g>
<g>
<!-- camera tilt -->
<path d="M445.8,221.4 L491.2,221.4 L481.3,242.4 L435.4,242.4 Z" fill="#cccccc" stroke="none"/>
<path d="M462.5,196.5 C456,197 452.5,206 451.6,214 C451.2,222 451.3,229 452.5,232 C453.5,234.5 455.5,235.3 458,235.3 L470,235.3 C472,235.2 472.8,234 472.8,232 L472.5,216 C473,213 472,210 470,206 C467.5,200 465,196.5 462.5,196.5 Z" fill="#fff"/>
<path d="M470.6,216 C470.2,222 470.4,229 471,235" stroke="#777"/>
<path d="M457.2,221.5 C457.2,221 457.7,220.8 458.2,220.8 L459.3,220.8 C459.8,220.8 460,221.2 460,221.7 L460,230.5 C460,231 459.7,231.3 459.3,231.3 L458,231.3 C457.5,231.3 457.2,231 457.2,230.5 Z" fill="#fff"/>
<path d="M458.3,224 v5" stroke-width="0.7"/>
<path d="M452.8,206 C454,201.5 457,198.5 460.5,197.3 M453.5,203.2 l-0.8,3 l2.2,-1.8" stroke-width="0.8"/>
<path d="M467.5,200.5 C471,201.5 473,205 472.5,209.5 M472.8,208 l-0.5,2 l-1.5,-1.5" stroke-width="1.1"/>
<path d="M475.5,231.8 C477.3,234.5 476,237 472.5,238 C470,238.6 467.5,238.7 465.3,238.5 M467,237.3 l-1.8,1.2 l1.8,1" stroke-width="0.8"/>
</g>

<!-- ===== COL3 install LCD ===== -->
<g>
<path d="M446.5,378 L494.1,378 L483,399.2 L434.9,399.2 Z" fill="#cccccc" stroke="none"/>
<path d="M468,348.8 C460,349.3 455,356 453.8,368 C453.2,376 453.4,383 455,386 C456.5,388 460,388.7 470,389 C474,388.8 476,386 476.5,378 C476.9,368 475.5,358 472,352.5 C471,350 469.5,348.8 468,348.8 Z" fill="#fff"/>
<path d="M469.3,350 C470,360 470,378 469.5,389" stroke="#666"/>
<ellipse cx="465.5" cy="352.5" rx="1.8" ry="2.5" transform="rotate(25 465.5 352.5)"/>
<path d="M466.3,351 l-0.8,3" stroke-width="1"/>
<path d="M461,357 h1.5 M463,357.3 h1.5" stroke-width="0.9"/>
<path d="M456.6,359.9 L466.6,360.4 L466.2,370.5 L456.2,370.1 Z"/>
<path d="M471.8,367 C473,367 473.3,369 473.2,372 C473,376 472.5,377.5 471.5,377.5 C470.6,377.3 470.7,369 471.8,367 Z"/>
<path d="M455,374 C456,373.5 457,374.5 456.5,375.5 C456,376.5 454.5,376.5 454.3,375.5 M465,375 a1,1 0 1,0 0.1,0" stroke-width="0.6"/>
<path d="M457,380 C459,383 462,385 465,386" stroke="#aaa" stroke-width="0.4"/>
</g>
<g>
<!-- LCD back w/ adapter -->
<path d="M458.6,416 C450,416.5 447,428 446.7,440 C446.5,447 446.6,453 447,457.4 L470.4,457.4 C470.8,453 470.9,447 470.7,440 C470.4,428 467,416.5 458.6,416 Z" stroke="#555" stroke-dasharray="1.2,0.5"/>
<ellipse cx="458" cy="421.5" rx="3" ry="1.6"/>
<circle cx="452.3" cy="423" r="0.7"/>
<circle cx="464.3" cy="423" r="0.7"/>
<path d="M450.5,430.5 l3.5,0.6 v3.8 l-3.5,-0.6 Z M462.6,431.1 l3.5,-0.6 v3.8 l-3.5,0.6 Z" fill="#888" stroke="#666" stroke-width="0.3"/>
<circle cx="458" cy="433.7" r="1.2" fill="#333"/>
<path d="M456.5,438.8 l1.5,-2 l1.5,2" stroke-width="0.5"/>
<path d="M450.2,441.3 C450.2,440.8 450.6,440.6 451.2,440.6 L466,440.6 C466.6,440.6 467,441 467,441.6 L467,452.5 C467,453 466.6,453.2 466,453.2 L451.2,453.2 C450.6,453.2 450.2,453 450.2,452.5 Z"/>
<path d="M450,455.5 h17" stroke-dasharray="0.8,0.6" stroke-width="0.6"/>
<path d="M458,457.4 C458,461 458,465 458.8,468 C460,471.5 463,472 467,471 C473,469.5 478,467.5 483,466 C487,465 491.5,465.2 491.5,464 C491.5,462.5 486,462.3 484,463.3 C482,464.5 483.5,466.5 487,466.3 C490,466 491.5,462 491.8,455 L491.8,452" stroke="#222" stroke-width="0.9"/>
<path d="M485.6,437.5 C485.6,436.8 486.2,436.4 487,436.4 L491.8,436.4 C492.5,436.4 492.8,437 492.8,437.7 L492.7,450.3 C492.7,451 492.2,451.4 491.5,451.4 L487,451.4 C486.2,451.4 485.6,451 485.6,450.3 Z" stroke-width="0.6"/>
<path d="M492.8,440.5 h3 M492.8,443.5 h3 M495.5,437.5 l5,-2 l1.5,6.5 l-0.5,2.5 l-5,-1 Z M497,442 l2,0.5" stroke-width="0.6"/>
</g>
</svg>

<div style="position:absolute;left:0;top:566px;width:802px;height:1px;background:#efefef"></div>
</body></html>
